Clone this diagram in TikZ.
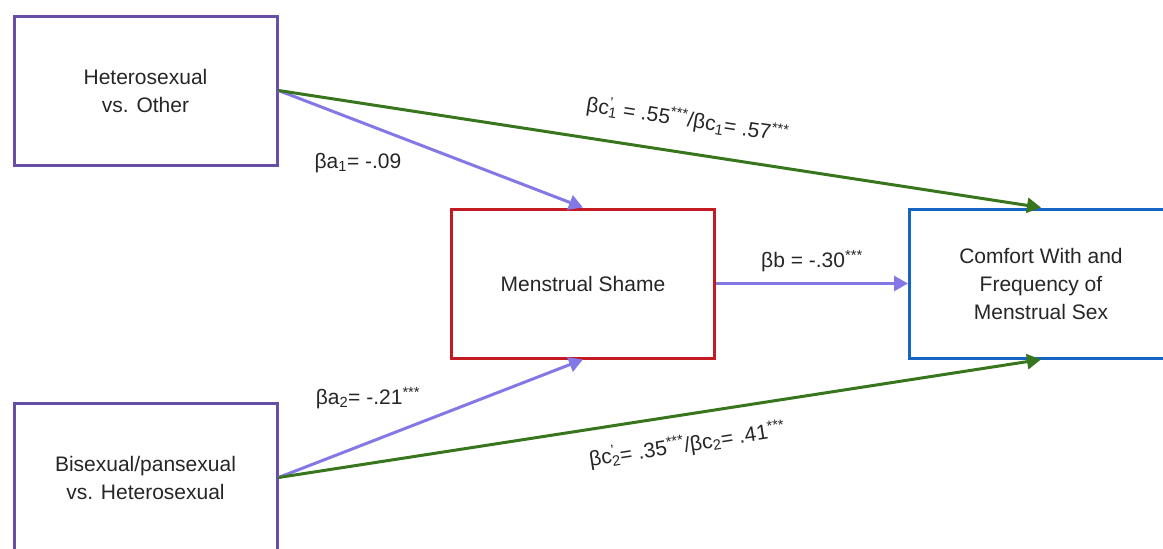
\documentclass[tikz,border=0pt]{standalone}
\usepackage{fontspec}
\setmainfont{Liberation Sans}
\usetikzlibrary{arrows.meta,positioning}
\definecolor{groupcolor}{RGB}{103,78,167}
\definecolor{shamecolor}{RGB}{196,26,36}
\definecolor{outcomecolor}{RGB}{22,100,196}
\definecolor{pathcolor}{RGB}{132,120,230}
\definecolor{directcolor}{RGB}{56,118,29}
\newcommand{\primesub}[1]{\rlap{\textsuperscript{’}}\textsubscript{#1}}

\begin{document}
\begin{tikzpicture}[
    x=1pt, y=-1pt,
    box/.style={rectangle, draw, line width=3pt, minimum width=263pt, minimum height=149pt, align=center, font=\fontsize{21}{28}\selectfont, text=black!85},
    lbl/.style={font=\fontsize{21}{26}\selectfont, text=black!85},
    arrow/.style={-{Triangle[length=14pt,width=15pt]}, line width=3pt}
]
\clip (0,0) rectangle (1163,549);

% Predictors
\node[box, draw=groupcolor] (hetother) at (145.5,90.5) {Heterosexual\\vs. Other};
\node[box, draw=groupcolor] (bipan) at (145.5,477.5) {Bisexual/pansexual\\vs. Heterosexual};

% Mediator and outcome
\node[box, draw=shamecolor] (shame) at (583,283.5) {Menstrual Shame};
\node[box, draw=outcomecolor] (comfort) at (1041,283.5) {Comfort With and\\Frequency of\\Menstrual Sex};

% Indirect paths
\draw[arrow, pathcolor] (hetother.east) -- (shame.north);
\draw[arrow, pathcolor] (bipan.east) -- (shame.south);
\draw[arrow, pathcolor] (shame.east) -- node[lbl, above, inner ysep=10pt] {βb = -.30\textsuperscript{***}} (comfort.west);
\node[lbl] (pathaone) at (358,163) {βa\textsubscript{1}= -.09};
\node[lbl] (pathatwo) at (368,398) {βa\textsubscript{2}= -.21\textsuperscript{***}};

% Direct paths
\draw[arrow, directcolor] (hetother.east) -- node[lbl, sloped, pos=0.53, above, inner ysep=20pt] {βc\primesub{1} = .55\textsuperscript{***}/βc\textsubscript{1}= .57\textsuperscript{***}} (comfort.north);
\draw[arrow, directcolor] (bipan.east) -- node[lbl, sloped, pos=0.53, below, inner ysep=18pt] {βc\primesub{2}= .35\textsuperscript{***}/βc\textsubscript{2}= .41\textsuperscript{***}} (comfort.south);

\end{tikzpicture}
\end{document}
